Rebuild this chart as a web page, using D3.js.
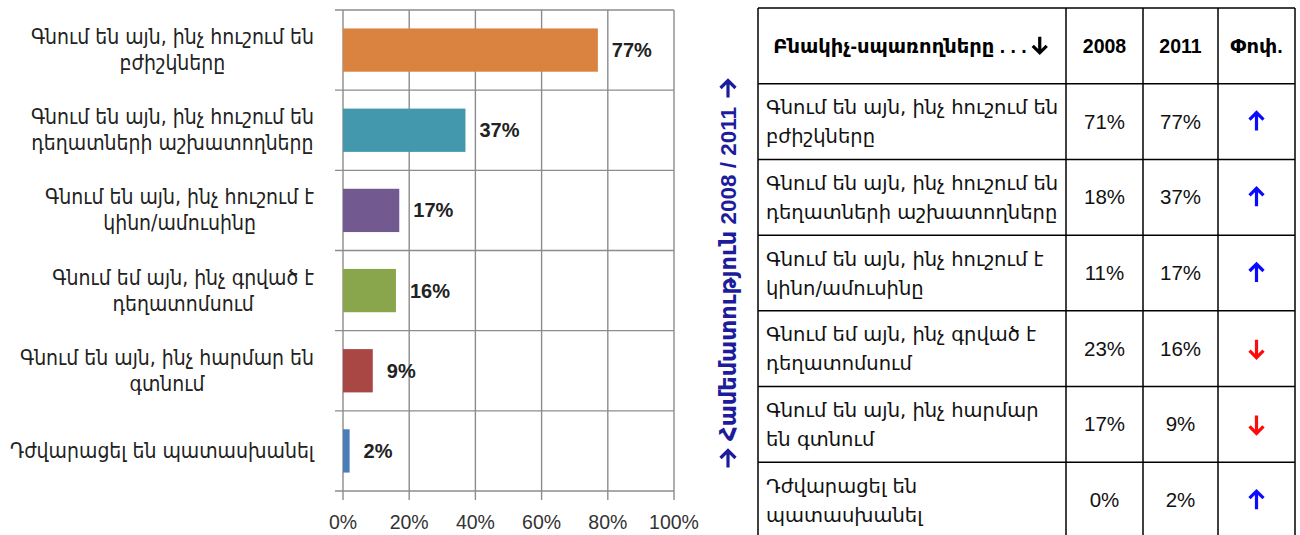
<!DOCTYPE html>
<html>
<head>
<meta charset="utf-8">
<script src="https://cdn.jsdelivr.net/npm/d3@7"></script>
<style>
  body { margin: 0; background: #fff; }
  svg { display: block; }
</style>
</head>
<body>
<div id="chart"></div>
<script>
//~~~~~~~~~~~~~~~~~~DATA
// chart labels (line breaks as in the picture)
let chartLabels = [
  ['Գնում են այն, ինչ հուշում են', 'բժիշկները'],
  ['Գնում են այն, ինչ հուշում են', 'դեղատների աշխատողները'],
  ['Գնում են այն, ինչ հուշում է', 'կինո/ամուսինը'],
  ['Գնում եմ այն, ինչ գրված է', 'դեղատոմսում'],
  ['Գնում են այն, ինչ հարմար են', 'գտնում'],
  ['Դժվարացել են պատասխանել']
];
// same rows, wrapped the way the table wraps them
let tableLabels = [
  ['Գնում են այն, ինչ հուշում են', 'բժիշկները'],
  ['Գնում են այն, ինչ հուշում են', 'դեղատների աշխատողները'],
  ['Գնում են այն, ինչ հուշում է', 'կինո/ամուսինը'],
  ['Գնում եմ այն, ինչ գրված է', 'դեղատոմսում'],
  ['Գնում են այն, ինչ հարմար', 'են գտնում'],
  ['Դժվարացել են', 'պատասխանել']
];
let values2008 = [71, 18, 11, 23, 17, 0];
let values2011 = [77, 37, 17, 16, 9, 2];
let barColors = ['#da8340', '#4398ae', '#72598f', '#8aa64d', '#a84744', '#4a7ebb'];
let xTicks = [0, 20, 40, 60, 80, 100];
let tableHeader = ['Բնակիչ-սպառողները . . .', '2008', '2011', 'Փոփ.'];
let sideTitle = 'Համեմատություն 2008 / 2011';

//~~~~~~~~~~~~~~~~~~VARIABLES
let width = 1300;
let height = 535;
let font = "'Liberation Sans', 'DejaVu Sans', Arial, sans-serif";
let armCond = "'DejaVu Sans Condensed', 'DejaVu Sans', sans-serif";
let armFont = "'DejaVu Sans', sans-serif";

let svg = d3.select('#chart')
  .append('svg')
  .attr('width', width)
  .attr('height', height);

// thick arrow pointing up, centred on 0,0 (rotate for other directions)
function arrowPath(len, head) {
  let h = len / 2;
  return 'M0,' + h + 'L0,' + (-h + 1) +
    'M' + (-head / 2) + ',' + (-h + head / 2) + 'L0,' + (-h) + 'L' + (head / 2) + ',' + (-h + head / 2);
}

//~~~~~~~~~~~~~~~~~~BAR CHART
let idx = d3.range(values2011.length);

let x = d3.scaleLinear().domain([0, 100]).range([343, 674]);
let y = d3.scaleBand().domain(idx).range([10, 491])
  .paddingInner(0.46).paddingOuter(0.23);
let step = y.step();
let bandTop = function(i) { return y(i) - y.paddingInner() * step / 2; };

let chart = svg.append('g');
let gridColor = '#8c8c8c';

// vertical grid lines (with small ticks below)
chart.selectAll('.vgrid')
  .data(xTicks)
  .enter()
  .append('line')
  .attr('x1', d => x(d)).attr('x2', d => x(d))
  .attr('y1', 10).attr('y2', 500)
  .attr('stroke', gridColor)
  .attr('stroke-width', 1.4);

// horizontal band boundaries (with small ticks to the left)
let bounds = idx.map(bandTop).concat([491]);
chart.selectAll('.hgrid')
  .data(bounds)
  .enter()
  .append('line')
  .attr('x1', 335).attr('x2', x(100))
  .attr('y1', d => d).attr('y2', d => d)
  .attr('stroke', gridColor)
  .attr('stroke-width', 1.4);

// bars
chart.selectAll('.bar')
  .data(values2011)
  .enter()
  .append('rect')
  .attr('x', x(0))
  .attr('y', (d, i) => y(i))
  .attr('width', d => x(d) - x(0))
  .attr('height', y.bandwidth())
  .attr('fill', (d, i) => barColors[i]);

// value labels
chart.selectAll('.val')
  .data(values2011)
  .enter()
  .append('text')
  .attr('x', d => x(d) + 14)
  .attr('y', (d, i) => y(i) + y.bandwidth() / 2 + 7)
  .attr('font-family', font)
  .attr('font-weight', 'bold')
  .attr('font-size', 20)
  .attr('fill', '#222')
  .text(d => d + '%');

// x tick labels
chart.selectAll('.xt')
  .data(xTicks)
  .enter()
  .append('text')
  .attr('x', d => x(d))
  .attr('y', 529)
  .attr('text-anchor', 'middle')
  .attr('font-family', font)
  .attr('font-size', 19.5)
  .attr('fill', '#333')
  .text(d => d + '%');

// category labels: centred lines, block right-aligned
let labelRight = 314;
let lab = chart.selectAll('.lab')
  .data(chartLabels)
  .enter()
  .append('text')
  .attr('font-family', armCond)
  .attr('font-size', 21)
  .attr('fill', '#222')
  .attr('text-anchor', 'middle');

lab.each(function(lines, i) {
  let t = d3.select(this);
  let cy = y(i) + y.bandwidth() / 2;
  let n = lines.length;
  lines.forEach(function(line, k) {
    t.append('tspan')
      .attr('y', cy + (k - (n - 1) / 2) * 26 + 7)
      .text(line);
  });
  let w = d3.max(t.selectAll('tspan').nodes(), nd => nd.getComputedTextLength());
  t.selectAll('tspan').attr('x', labelRight - w / 2);
});

//~~~~~~~~~~~~~~~~~~TABLE
let colEdges = [758, 1066, 1143, 1218, 1295];
let rows = d3.scaleBand().domain(d3.range(tableLabels.length + 1)).range([8, 538]);
let table = svg.append('g');

// row lines
table.selectAll('.rline')
  .data(rows.domain().map(r => rows(r)).concat([538]))
  .enter()
  .append('line')
  .attr('x1', colEdges[0]).attr('x2', colEdges[colEdges.length - 1])
  .attr('y1', d => d).attr('y2', d => d)
  .attr('stroke', '#000')
  .attr('stroke-width', 1.5);

// column lines
table.selectAll('.cline')
  .data(colEdges)
  .enter()
  .append('line')
  .attr('x1', d => d).attr('x2', d => d)
  .attr('y1', 8).attr('y2', 538)
  .attr('stroke', '#000')
  .attr('stroke-width', 1.5);

let colMid = function(c) { return (colEdges[c] + colEdges[c + 1]) / 2; };
let headY = rows(0) + rows.bandwidth() / 2;

// header
let head = table.selectAll('.head')
  .data(tableHeader)
  .enter()
  .append('text')
  .attr('x', (d, c) => c === 0 ? colMid(0) - 12 : colMid(c))
  .attr('y', headY + 7)
  .attr('text-anchor', 'middle')
  .attr('font-family', font)
  .attr('font-weight', 'bold')
  .attr('font-size', 19.5)
  .attr('fill', '#000')
  .text(d => d);

// header arrow after the first heading
let h0 = head.nodes()[0];
let h0End = colMid(0) - 12 + h0.getComputedTextLength() / 2;
table.append('path')
  .attr('d', arrowPath(16, 14))
  .attr('transform', 'translate(' + (h0End + 13) + ',' + (headY - 1) + ') rotate(180)')
  .attr('fill', 'none')
  .attr('stroke', '#000')
  .attr('stroke-width', 3.2);

// row labels
table.selectAll('.rlab')
  .data(tableLabels)
  .enter()
  .append('text')
  .attr('font-family', armFont)
  .attr('font-size', 19.5)
  .attr('fill', '#111')
  .each(function(lines, i) {
    let t = d3.select(this);
    let cy = rows(i + 1) + rows.bandwidth() / 2;
    lines.forEach(function(line, k) {
      t.append('tspan')
        .attr('x', 766)
        .attr('y', cy + (k - 0.5) * 29 + 7)
        .text(line);
    });
  });

// numbers
[values2008, values2011].forEach(function(vals, c) {
  table.selectAll('.num' + c)
    .data(vals)
    .enter()
    .append('text')
    .attr('x', colMid(c + 1))
    .attr('y', (d, i) => rows(i + 1) + rows.bandwidth() / 2 + 7)
    .attr('text-anchor', 'middle')
    .attr('font-family', font)
    .attr('font-size', 20.5)
    .attr('fill', '#111')
    .text(d => d + '%');
});

// change arrows
table.selectAll('.arr')
  .data(idx)
  .enter()
  .append('path')
  .attr('d', arrowPath(18, 14))
  .attr('transform', i => 'translate(' + colMid(3) + ',' + (rows(i + 1) + rows.bandwidth() / 2) + ')' +
    (values2011[i] >= values2008[i] ? '' : ' rotate(180)'))
  .attr('fill', 'none')
  .attr('stroke', i => values2011[i] >= values2008[i] ? '#0a0aff' : '#ff0a0a')
  .attr('stroke-width', 3.2);

// side title with arrows at both ends (pointing up)
let sideCy = 274;
let side = svg.append('text')
  .attr('transform', 'translate(736,' + sideCy + ') rotate(-90)')
  .attr('text-anchor', 'middle')
  .attr('font-family', font)
  .attr('font-weight', 'bold')
  .attr('font-size', 22.5)
  .attr('fill', '#1c1c9c')
  .text(sideTitle);
let sideLen = side.node().getComputedTextLength();
[-1, 1].forEach(function(s) {
  svg.append('path')
    .attr('d', arrowPath(17, 15))
    .attr('transform', 'translate(728,' + (sideCy + s * (sideLen / 2 + 18)) + ')')
    .attr('fill', 'none')
    .attr('stroke', '#1c1c9c')
    .attr('stroke-width', 3.2);
});
</script>
</body>
</html>
